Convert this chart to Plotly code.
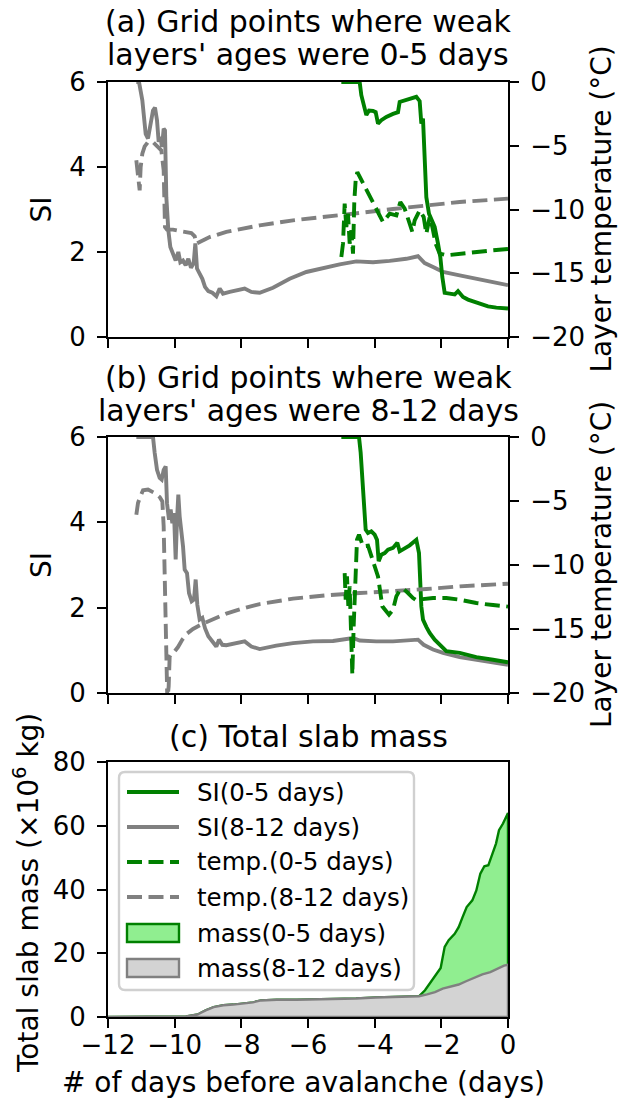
import plotly.graph_objects as go

W, H = 620, 1098
FONT = "DejaVu Sans"
FS_TICK = 26
FS_LABEL = 28
FS_TITLE = 30
FS_LEGEND = 24.5

GREEN = "#008000"
GRAY = "#808080"
LIGHTGREEN = "#90ee90"
LIGHTGRAY = "#d3d3d3"
DASH = "15px,6.5px"

# ---------------- tick values ----------------
day_ticks = [-12, -10, -8, -6, -4, -2, 0]
day_tick_text = ["−12", "−10", "−8", "−6", "−4", "−2", "0"]
si_ticks = [0, 2, 4, 6]
temp_ticks = [-20, -15, -10, -5, 0]
temp_tick_text = ["−20", "−15", "−10", "−5", "0"]
mass_ticks = [0, 20, 40, 60, 80]

# ---------------- (a) weak layers aged 0-5 days ----------------
a_si_old_day = [-11.15, -11.07, -10.97, -10.87, -10.80, -10.73, -10.65, -10.59, -10.53, -10.48,
                -10.43, -10.38, -10.33, -10.29, -10.25, -10.19, -10.13, -10.05, -9.97, -9.89,
                -9.83, -9.75, -9.67, -9.59, -9.51, -9.43, -9.38, -9.33, -9.25, -9.17,
                -9.09, -8.99, -8.87, -8.75, -8.65, -8.55, -8.35, -8.15, -7.90, -7.70,
                -7.45, -7.05, -6.55, -6.05, -5.55, -5.05, -4.55, -4.05, -3.55, -3.05,
                -2.70, -2.50, -2.20, -1.95, -1.45, -0.95, -0.45, 0.0]
a_si_old = [6.0, 6.0, 5.57, 4.78, 4.67, 4.94, 5.33, 5.40, 5.10, 4.59,
            4.71, 4.47, 4.90, 4.86, 3.29, 2.51, 2.12, 1.96, 1.80, 2.00,
            1.76, 1.80, 1.69, 1.84, 1.63, 1.74, 2.20, 1.61, 1.49, 1.37,
            1.18, 1.08, 1.04, 0.96, 1.14, 1.02, 1.06, 1.10, 1.14, 1.06,
            1.04, 1.16, 1.37, 1.53, 1.63, 1.71, 1.78, 1.76, 1.79, 1.84,
            1.90, 1.74, 1.63, 1.53, 1.45, 1.36, 1.29, 1.22]

a_si_young_day = [-5.00, -4.45, -4.40, -4.33, -4.25, -4.17, -4.05, -3.97, -3.90, -3.80,
                  -3.65, -3.45, -3.30, -3.25, -3.10, -2.90, -2.75, -2.65, -2.60, -2.55,
                  -2.50, -2.45, -2.37, -2.30, -2.20, -2.10, -2.03, -1.97, -1.90, -1.75,
                  -1.60, -1.50, -1.35, -1.20, -1.00, -0.80, -0.60, -0.35, 0.0]
a_si_young = [6.0, 6.0, 5.69, 5.49, 5.22, 5.33, 5.32, 5.29, 5.02, 5.10,
              5.18, 5.25, 5.29, 5.53, 5.57, 5.61, 5.65, 5.55, 5.02, 5.14,
              4.31, 3.29, 2.90, 2.75, 2.59, 2.20, 1.88, 1.41, 1.04, 1.02,
              1.00, 1.08, 0.94, 0.88, 0.82, 0.77, 0.72, 0.69, 0.67]

a_temp_young_day = [-5.00, -4.95, -4.90, -4.85, -4.80, -4.75, -4.70, -4.65, -4.61, -4.57,
                    -4.52, -4.15, -3.75, -3.55, -3.35, -3.23, -3.10, -2.95, -2.87, -2.80,
                    -2.65, -2.53, -2.45, -2.35, -2.27, -2.17, -2.05, -1.85, -1.45, -0.95,
                    -0.45, 0.0]
a_temp_young = [-13.73, -12.68, -9.54, -11.37, -10.33, -12.68, -11.63, -13.46, -9.28, -7.71,
                -7.06, -8.89, -10.98, -10.33, -10.46, -9.41, -9.93, -11.11, -11.76, -10.85,
                -10.07, -10.59, -11.90, -10.59, -11.37, -12.68, -13.46, -13.59, -13.46, -13.33,
                -13.20, -13.10]

a_temp_old_day = [-11.15, -11.10, -11.05, -11.02, -10.97, -10.90, -10.80, -10.65, -10.50, -10.40,
                  -10.33, -10.29, -10.23, -10.05, -9.85, -9.65, -9.50, -9.40, -9.35, -9.25,
                  -8.95, -8.45, -7.45, -6.45, -5.45, -4.45, -3.45, -2.45, -1.45, 0.0]
a_temp_old = [-6.14, -7.71, -8.50, -6.67, -5.62, -5.05, -4.71, -4.71, -5.05, -5.36,
              -6.93, -11.37, -11.58, -11.58, -11.69, -11.76, -11.84, -12.10, -12.68, -12.55,
              -12.16, -11.76, -11.24, -10.85, -10.59, -10.27, -9.96, -9.67, -9.41, -9.15]

# ---------------- (b) weak layers aged 8-12 days ----------------
b_si_old_day = [-11.15, -10.65, -10.60, -10.53, -10.45, -10.39, -10.33, -10.27, -10.23, -10.17,
                -10.12, -10.07, -10.02, -9.97, -9.93, -9.89, -9.85, -9.80, -9.75, -9.70,
                -9.63, -9.57, -9.49, -9.42, -9.37, -9.32, -9.25, -9.17, -9.09, -8.99,
                -8.87, -8.75, -8.67, -8.57, -8.45, -8.15, -7.90, -7.70, -7.45, -6.95,
                -6.45, -5.85, -5.25, -4.65, -4.45, -3.95, -3.45, -2.70, -2.53, -2.25,
                -1.95, -1.45, -0.95, -0.45, 0.0]
b_si_old = [6.0, 6.0, 5.63, 5.23, 5.04, 5.00, 5.23, 5.31, 4.45, 4.06,
            4.30, 3.98, 4.22, 3.13, 4.06, 4.65, 4.14, 3.83, 3.44, 2.89,
            2.81, 2.34, 2.15, 2.19, 2.66, 2.07, 1.72, 1.76, 1.52, 1.33,
            1.21, 1.09, 1.25, 1.13, 1.12, 1.16, 1.21, 1.09, 1.03, 1.11,
            1.17, 1.21, 1.22, 1.29, 1.23, 1.21, 1.21, 1.25, 1.13, 1.02,
            0.94, 0.84, 0.78, 0.72, 0.66]

b_si_young_day = [-5.00, -4.47, -4.42, -4.37, -4.32, -4.27, -4.20, -4.10, -4.00, -3.93,
                  -3.88, -3.80, -3.70, -3.60, -3.45, -3.32, -3.25, -3.10, -2.95, -2.75,
                  -2.67, -2.60, -2.55, -2.45, -2.35, -2.20, -2.00, -1.85, -1.45, -0.95,
                  -0.45, 0.0]
b_si_young = [6.0, 6.0, 5.63, 5.08, 4.53, 3.83, 3.75, 3.79, 3.71, 3.59,
              3.09, 3.24, 3.28, 3.36, 3.40, 3.52, 3.32, 3.38, 3.46, 3.59,
              3.28, 2.03, 1.72, 1.55, 1.41, 1.25, 1.11, 0.98, 0.94, 0.84,
              0.78, 0.72]

b_temp_young_day = [-4.90, -4.87, -4.83, -4.79, -4.75, -4.71, -4.67, -4.63, -4.58, -4.53,
                    -4.47, -4.35, -4.20, -4.05, -3.90, -3.77, -3.57, -3.45, -3.35, -3.25,
                    -3.13, -3.00, -2.85, -2.70, -2.55, -2.25, -1.85, -1.45, -0.95, -0.45,
                    0.0]
b_temp_young = [-10.63, -12.71, -10.89, -13.23, -11.67, -14.79, -18.57, -14.79, -10.63, -8.02,
                -7.63, -8.54, -8.49, -9.58, -10.89, -13.23, -13.88, -13.49, -12.45, -11.98,
                -11.88, -12.19, -12.58, -12.84, -12.66, -12.58, -12.58, -12.71, -12.97, -13.13,
                -13.25]

b_temp_old_day = [-11.15, -11.10, -11.03, -10.95, -10.80, -10.60, -10.45, -10.37, -10.33, -10.29,
                  -10.25, -10.22, -10.18, -10.15, -10.09, -10.00, -9.90, -9.77, -9.63, -9.45,
                  -9.15, -8.85, -8.45, -7.95, -7.45, -6.45, -5.45, -4.45, -3.45, -2.45,
                  -1.45, 0.0]
b_temp_old = [-6.07, -5.16, -4.64, -4.17, -4.11, -4.38, -4.69, -5.03, -6.98, -11.15,
              -16.88, -20.6, -19.48, -17.14, -16.88, -16.74, -16.41, -15.83, -15.36, -15.00,
              -14.58, -14.27, -13.80, -13.39, -13.05, -12.63, -12.37, -12.19, -12.06, -11.88,
              -11.67, -11.46]

# ---------------- (c) total slab mass (x10^6 kg) ----------------
mass_old_day = [-12.0, -10.02, -9.66, -9.31, -9.07, -8.83, -8.54, -8.24, -7.89, -7.65,
                -7.41, -6.94, -6.34, -5.75, -5.16, -4.56, -3.97, -3.38, -2.67, -2.43,
                -2.19, -1.96, -1.72, -1.48, -1.24, -1.01, -0.77, -0.53, -0.30, -0.12,
                0.0]
mass_old = [0.0, 0.0, 0.2, 0.8, 2.1, 3.1, 3.7, 3.9, 4.2, 4.6,
            5.2, 5.4, 5.4, 5.5, 5.6, 5.8, 6.1, 6.3, 6.5, 7.1,
            7.8, 8.9, 9.6, 10.2, 11.3, 12.3, 13.4, 14.1, 15.2, 16.1,
            16.4]

mass_young_day = [-12.0, -10.02, -9.66, -9.31, -9.07, -8.83, -8.54, -8.24, -7.89, -7.65,
                  -7.41, -6.94, -6.34, -5.75, -5.16, -4.56, -3.97, -3.38, -2.67, -2.49,
                  -2.31, -2.13, -2.02, -1.90, -1.78, -1.60, -1.48, -1.36, -1.24, -1.07,
                  -0.95, -0.83, -0.71, -0.59, -0.47, -0.36, -0.27, -0.15, 0.0]
mass_young = [0.0, 0.0, 0.2, 0.8, 2.1, 3.1, 3.7, 3.9, 4.2, 4.6,
              5.2, 5.4, 5.4, 5.5, 5.6, 5.8, 6.1, 6.3, 6.5, 8.4,
              11.0, 13.6, 15.4, 22.0, 24.1, 26.1, 28.2, 31.4, 34.5, 36.6,
              39.7, 45.0, 47.3, 47.6, 51.2, 54.4, 58.6, 60.7, 64.0]

# ---------------- legend entries ----------------
legend_labels = ["SI(0-5 days)", "SI(8-12 days)", "temp.(0-5 days)", "temp.(8-12 days)",
                 "mass(0-5 days)", "mass(8-12 days)"]
legend_kinds = ["line", "line", "dash", "dash", "patch", "patch"]
legend_edge = [GREEN, GRAY, GREEN, GRAY, GREEN, GRAY]
legend_face = [None, None, None, None, LIGHTGREEN, LIGHTGRAY]


def fx(px):
    return px / W


def fy(py):
    return 1 - py / H


X_DOM = [fx(108), fx(508)]
PANEL_A = [fy(337), fy(82)]
PANEL_B = [fy(693), fy(437)]
PANEL_C = [fy(1017), fy(762)]

fig = go.Figure()


def line_trace(x, y, color, xa, ya, dash=None):
    return go.Scatter(x=x, y=y, mode="lines", xaxis=xa, yaxis=ya, showlegend=False,
                      line=dict(color=color, width=3.9, dash=dash or "solid"),
                      hoverinfo="skip")


# (a)
fig.add_trace(line_trace(a_si_old_day, a_si_old, GRAY, "x", "y"))
fig.add_trace(line_trace(a_si_young_day, a_si_young, GREEN, "x", "y"))
fig.add_trace(line_trace(a_temp_old_day, a_temp_old, GRAY, "x", "y2", DASH))
fig.add_trace(line_trace(a_temp_young_day, a_temp_young, GREEN, "x", "y2", DASH))
# (b)
fig.add_trace(line_trace(b_si_old_day, b_si_old, GRAY, "x2", "y3"))
fig.add_trace(line_trace(b_si_young_day, b_si_young, GREEN, "x2", "y3"))
fig.add_trace(line_trace(b_temp_old_day, b_temp_old, GRAY, "x2", "y4", DASH))
fig.add_trace(line_trace(b_temp_young_day, b_temp_young, GREEN, "x2", "y4", DASH))


# (c) filled areas closed down to zero
def area_trace(x, y, edge, face):
    xs = list(x) + list(x)[::-1]
    ys = list(y) + [0.0] * len(y)
    return go.Scatter(x=xs, y=ys, mode="lines", fill="toself", fillcolor=face,
                      line=dict(color=edge, width=2.4), xaxis="x3", yaxis="y5",
                      showlegend=False, hoverinfo="skip")


fig.add_trace(area_trace(mass_young_day, mass_young, GREEN, LIGHTGREEN))
fig.add_trace(area_trace(mass_old_day, mass_old, GRAY, LIGHTGRAY))

axis_common = dict(showgrid=False, zeroline=False, showline=True, linecolor="black",
                   linewidth=2.1, ticks="outside", ticklen=9, tickwidth=2.1,
                   tickcolor="black", automargin=False,
                   tickfont=dict(family=FONT, size=FS_TICK, color="black"),
                   ticklabelstandoff=6)

xcommon = dict(axis_common, range=[-12, 0], tickvals=day_ticks, ticktext=day_tick_text,
               domain=X_DOM, mirror=True, ticklabelstandoff=-5)

fig.update_layout(
    template="none",
    width=W, height=H, margin=dict(l=0, r=0, t=0, b=0, autoexpand=False),
    paper_bgcolor="white", plot_bgcolor="white", showlegend=False,
    font=dict(family=FONT, size=FS_TICK, color="black"),
    xaxis=dict(xcommon, anchor="y", showticklabels=False),
    xaxis2=dict(xcommon, anchor="y3", showticklabels=False),
    xaxis3=dict(xcommon, anchor="y5"),
    yaxis=dict(axis_common, domain=PANEL_A, anchor="x", range=[0, 6], tickvals=si_ticks),
    yaxis2=dict(axis_common, overlaying="y", side="right", anchor="x", range=[-20, 0],
                tickvals=temp_ticks, ticktext=temp_tick_text),
    yaxis3=dict(axis_common, domain=PANEL_B, anchor="x2", range=[0, 6], tickvals=si_ticks),
    yaxis4=dict(axis_common, overlaying="y3", side="right", anchor="x2", range=[-20, 0],
                tickvals=temp_ticks, ticktext=temp_tick_text),
    yaxis5=dict(axis_common, domain=PANEL_C, anchor="x3", range=[0, 80],
                tickvals=mass_ticks, mirror=True),
)

annotations = []


def text(x, y, s, size, angle=0, xanchor="center"):
    annotations.append(dict(x=fx(x), y=fy(y), xref="paper", yref="paper", text=s,
                            showarrow=False, textangle=angle, xanchor=xanchor,
                            yanchor="middle", font=dict(family=FONT, size=size, color="black")))


# panel titles (two lines each for a and b)
text(308, 22, "(a) Grid points where weak", FS_TITLE)
text(308, 54, "layers' ages were 0-5 days", FS_TITLE)
text(308, 378, "(b) Grid points where weak", FS_TITLE)
text(308, 410, "layers' ages were 8-12 days", FS_TITLE)
text(308, 736, "(c) Total slab mass", FS_TITLE)

# axis titles
text(41, 209.5, "SI", FS_LABEL, angle=-90)
text(41, 565, "SI", FS_LABEL, angle=-90)
text(601, 209.5, "Layer temperature (°C)", FS_LABEL, angle=-90)
text(601, 565, "Layer temperature (°C)", FS_LABEL, angle=-90)
text(26, 893, "Total slab mass (×10<sup>6</sup> kg)", FS_LABEL, angle=-90)
text(303, 1082, "# of days before avalanche (days)", FS_LABEL)

# legend (drawn in panel c)
shapes = []
LX0, LX1, LY0, LY1, R = 119, 414, 772, 990, 6
box = (f"M{fx(LX0 + R)},{fy(LY0)} L{fx(LX1 - R)},{fy(LY0)} "
       f"Q{fx(LX1)},{fy(LY0)} {fx(LX1)},{fy(LY0 + R)} L{fx(LX1)},{fy(LY1 - R)} "
       f"Q{fx(LX1)},{fy(LY1)} {fx(LX1 - R)},{fy(LY1)} L{fx(LX0 + R)},{fy(LY1)} "
       f"Q{fx(LX0)},{fy(LY1)} {fx(LX0)},{fy(LY1 - R)} L{fx(LX0)},{fy(LY0 + R)} "
       f"Q{fx(LX0)},{fy(LY0)} {fx(LX0 + R)},{fy(LY0)} Z")
shapes.append(dict(type="path", path=box, xref="paper", yref="paper", layer="above",
                   fillcolor="rgba(255,255,255,0.8)", line=dict(color="#d0d0d0", width=2.4)))

row_y = [792, 827, 862, 897, 933, 968]
for lab, kind, edge, face, ry in zip(legend_labels, legend_kinds, legend_edge, legend_face, row_y):
    if kind == "patch":
        shapes.append(dict(type="rect", xref="paper", yref="paper", layer="above",
                           x0=fx(127), x1=fx(179), y0=fy(ry + 9), y1=fy(ry - 9),
                           fillcolor=face, line=dict(color=edge, width=2.4)))
    else:
        shapes.append(dict(type="line", xref="paper", yref="paper", layer="above",
                           x0=fx(127), x1=fx(179), y0=fy(ry), y1=fy(ry),
                           line=dict(color=edge, width=3.9,
                                     dash=DASH if kind == "dash" else "solid")))
    text(195, ry, lab, FS_LEGEND, xanchor="left")

fig.update_layout(annotations=annotations, shapes=shapes)

fig.write_html("out.html")
